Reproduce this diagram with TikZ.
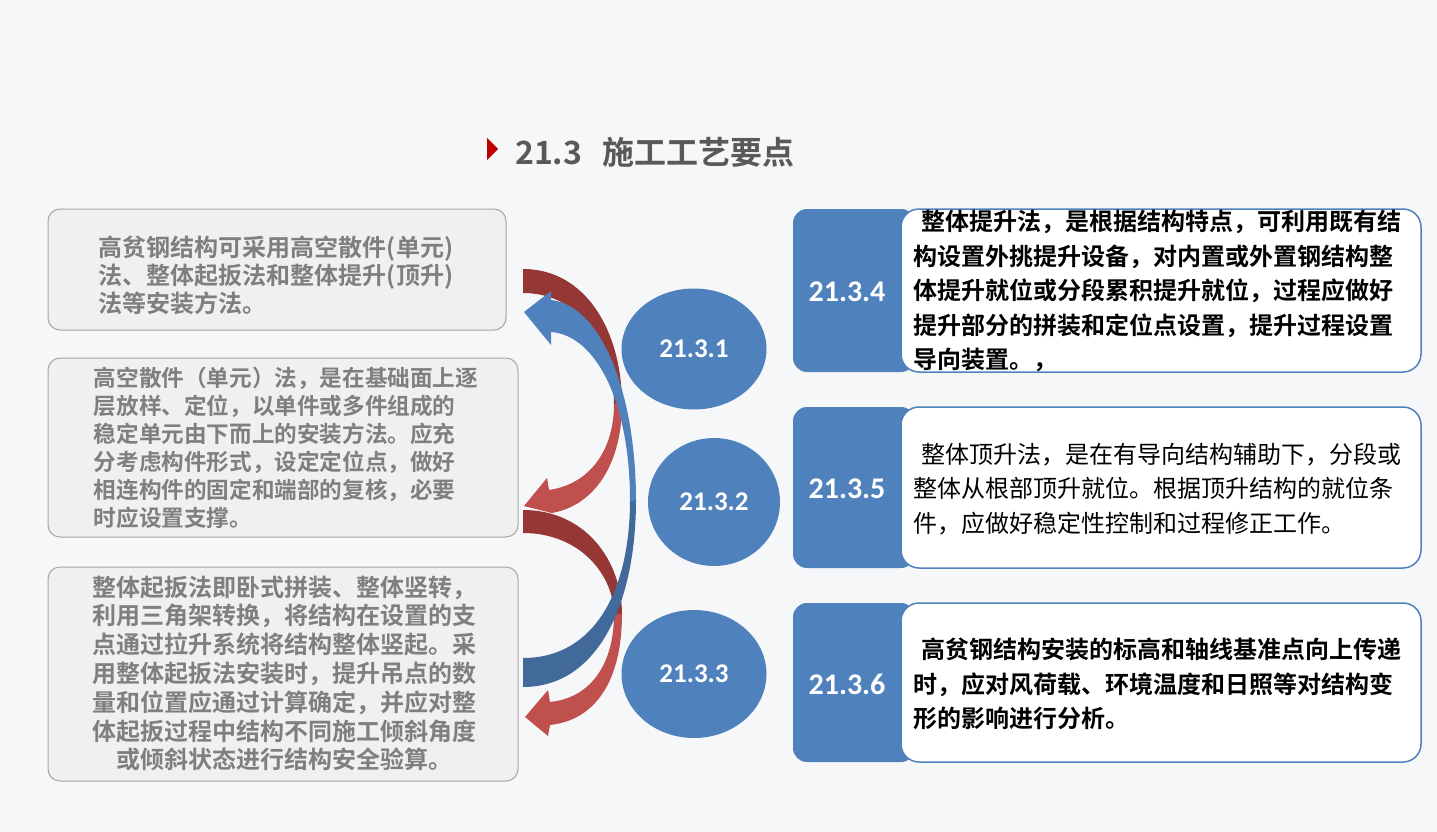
\documentclass[tikz,border=0pt]{standalone}
\usepackage{fontspec}
\setmainfont{Noto Sans CJK SC}[BoldFont={Noto Sans CJK SC Bold}]
\newfontfamily\numfont{Carlito}
\usetikzlibrary{shapes.geometric}
\definecolor{bg}{HTML}{F6F7F9}
\definecolor{lbox}{HTML}{F0F0F0}
\definecolor{lborder}{HTML}{A6A6A6}
\definecolor{ltext}{HTML}{7F7F7F}
\definecolor{accent}{HTML}{4F81BD}
\definecolor{dblue}{HTML}{41699A}
\definecolor{dred}{HTML}{953735}
\definecolor{lred}{HTML}{C0504D}
\definecolor{ttl}{HTML}{595959}
\definecolor{tri}{HTML}{C00000}
\begin{document}
\begin{tikzpicture}[x=1pt,y=-1pt,
  leftbox/.style={draw=lborder, fill=lbox, rounded corners=12pt, line width=1pt, inner sep=0pt},
  lefttext/.style={inner sep=0pt, text=ltext, font=\bfseries\fontsize{24}{28}\selectfont},
  circ/.style={ellipse, fill=accent, inner sep=0pt, text=white, font=\numfont\bfseries\fontsize{27}{30}\selectfont},
  labbox/.style={fill=accent, rounded corners=14pt, inner sep=0pt, minimum width=122pt},
  labtext/.style={text=white, font=\numfont\bfseries\fontsize{30}{34}\selectfont, inner sep=0pt},
  rbox/.style={draw=accent, fill=white, line width=1.5pt, rounded corners=18pt, inner sep=0pt, minimum width=520pt},
  rtext/.style={anchor=west, align=left, inner sep=0pt, text=black, font=\fontsize{24}{34.5}\selectfont}
]
\useasboundingbox (0,0) rectangle (1437,832);
\fill[bg] (0,0) rectangle (1437,832);

% title
\fill[tri] (487,138) -- (498,149) -- (487,160) -- cycle;
\node[anchor=west, inner sep=0pt, text=ttl, font=\bfseries\fontsize{32}{38}\selectfont] (title) at (515,152) {21.3\hspace{20pt}施工工艺要点};

% left boxes
\node[leftbox, minimum width=458pt, minimum height=121pt] (b1) at (277,269.5) {};
\node[leftbox, minimum width=470pt, minimum height=179pt] (b2) at (283,447.5) {};
\node[leftbox, minimum width=470pt, minimum height=214pt] (b3) at (283,674) {};

\node[lefttext, align=left] (t1) at (276,275) {高贫钢结构可采用高空散件(单元)\\法、整体起扳法和整体提升(顶升)\\法等安装方法。};
\node[lefttext, align=left, font=\bfseries\fontsize{22.6}{28}\selectfont] (t2) at (286,448) {高空散件（单元）法，是在基础面上逐\\层放样、定位，以单件或多件组成的\\稳定单元由下而上的安装方法。应充\\分考虑构件形式，设定定位点，做好\\相连构件的固定和端部的复核，必要\\时应设置支撑。};
\node[lefttext, align=center, font=\bfseries\fontsize{24}{28.8}\selectfont] (t3) at (284,673.5) {整体起扳法即卧式拼装、整体竖转，\\利用三角架转换，将结构在设置的支\\点通过拉升系统将结构整体竖起。采\\用整体起扳法安装时，提升吊点的数\\量和位置应通过计算确定，并应对整\\体起扳过程中结构不同施工倾斜角度\\或倾斜状态进行结构安全验算。};

% red arrow A (upper)
\fill[dred] (523,269) .. controls (585,269) and (622,330) .. (622,405)
  -- (614,405) .. controls (614,345) and (580,293) .. (523,293) -- cycle;
\fill[lred] (622,404) .. controls (622,462) and (596,505) .. (552,513)
  -- (524,506) -- (547,478) -- (549,490)
  .. controls (590,484) and (614,450) .. (614,404) -- cycle;

% red arrow B (lower)
\fill[dred] (523,510) .. controls (585,510) and (622,560) .. (622,615)
  -- (614,615) .. controls (614,575) and (580,533) .. (523,533) -- cycle;
\fill[lred] (622,614) .. controls (622,680) and (596,720) .. (550,725)
  -- (548,736) -- (525,717) -- (548,690) -- (550,702)
  .. controls (590,698) and (614,665) .. (614,614) -- cycle;

% blue arrow
\fill[dblue] (523,687) .. controls (600,687) and (636,600) .. (636,500)
  -- (630,500) .. controls (630,590) and (595,658) .. (523,658) -- cycle;
\fill[accent] (636,501) .. controls (636,390) and (600,305) .. (551,300)
  -- (551,291) -- (524,312) -- (551,345) -- (551,332)
  .. controls (595,335) and (630,400) .. (630,501) -- cycle;

% circles
\node[circ, minimum width=145pt, minimum height=121pt] (c1) at (694,349) {21.3.1};
\node[circ, minimum width=132pt, minimum height=128pt] (c2) at (714,502) {21.3.2};
\node[circ, minimum width=145pt, minimum height=128pt] (c3) at (694,674) {21.3.3};

% right side
\node[labbox, minimum height=163pt] (l4) at (854,290.5) {};
\node[labbox, minimum height=161pt] (l5) at (854,487.5) {};
\node[labbox, minimum height=159pt] (l6) at (854,682.5) {};
\node[rbox, minimum height=163pt] (r4) at (1161,290.5) {};
\node[rbox, minimum height=161pt] (r5) at (1161,487.5) {};
\node[rbox, minimum height=159pt] (r6) at (1161,682.5) {};
\node[labtext] (n4) at (847,292) {21.3.4};
\node[labtext] (n5) at (847,489) {21.3.5};
\node[labtext] (n6) at (847,684) {21.3.6};

\node[rtext, font=\bfseries\fontsize{24}{34.5}\selectfont] (s4) at (913,291) {\hspace{8pt}整体提升法，是根据结构特点，可利用既有结\\构设置外挑提升设备，对内置或外置钢结构整\\体提升就位或分段累积提升就位，过程应做好\\提升部分的拼装和定位点设置，提升过程设置\\导向装置。，};
\node[rtext] (s5) at (913,489) {\hspace{8pt}整体顶升法，是在有导向结构辅助下，分段或\\整体从根部顶升就位。根据顶升结构的就位条\\件，应做好稳定性控制和过程修正工作。};
\node[rtext, font=\bfseries\fontsize{24}{34.5}\selectfont] (s6) at (913,684) {\hspace{8pt}高贫钢结构安装的标高和轴线基准点向上传递\\时，应对风荷载、环境温度和日照等对结构变\\形的影响进行分析。};
\end{tikzpicture}
\end{document}
